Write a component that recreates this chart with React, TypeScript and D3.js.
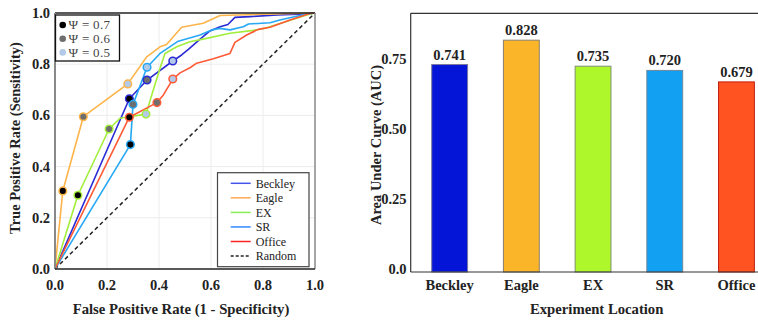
import React from "react";
import * as d3 from "d3";

// ---------- ROC data ----------
const beckleyFpr = [0, 0.286, 0.354, 0.453, 0.487, 0.513, 0.558, 0.596, 0.635, 0.665, 0.692, 0.75, 0.854, 0.969, 1];
const beckleyTpr = [0, 0.665, 0.738, 0.8125, 0.836, 0.858, 0.898, 0.93, 0.946, 0.955, 0.983, 0.986, 0.992, 0.996, 1];
const beckleyMarks = [1, 2, 3];

const eagleFpr = [0, 0.03, 0.109, 0.28, 0.353, 0.404, 0.429, 0.487, 0.57, 0.635, 0.8, 1];
const eagleTpr = [0, 0.305, 0.595, 0.723, 0.829, 0.868, 0.877, 0.944, 0.96, 0.99, 0.995, 1];
const eagleMarks = [1, 2, 3];

const exFpr = [0, 0.088, 0.208, 0.25, 0.35, 0.378, 0.404, 0.423, 0.468, 0.519, 0.583, 0.673, 0.763, 0.814, 0.968, 1];
const exTpr = [0, 0.288, 0.547, 0.589, 0.605, 0.699, 0.784, 0.842, 0.868, 0.888, 0.901, 0.921, 0.932, 0.942, 0.992, 1];
const exMarks = [1, 2, 4];

const srFpr = [0, 0.29, 0.3, 0.354, 0.404, 0.474, 0.558, 0.603, 0.635, 0.673, 0.724, 0.744, 0.827, 0.865, 0.968, 1];
const srTpr = [0, 0.486, 0.643, 0.788, 0.842, 0.89, 0.914, 0.934, 0.94, 0.934, 0.946, 0.957, 0.962, 0.973, 0.996, 1];
const srMarks = [1, 2, 3];

const officeFpr = [0, 0.286, 0.392, 0.417, 0.453, 0.481, 0.519, 0.545, 0.609, 0.673, 0.692, 0.737, 0.782, 0.827, 0.904, 0.98, 1];
const officeTpr = [0, 0.593, 0.65, 0.68, 0.742, 0.766, 0.786, 0.804, 0.821, 0.842, 0.885, 0.914, 0.936, 0.944, 0.973, 0.998, 1];
const officeMarks = [1, 2, 4];

const seriesNames = ["Beckley", "Eagle", "EX", "SR", "Office"];
const lineColors = ["#2b2bd6", "#fdb44b", "#a3ee3c", "#27a8f5", "#ff5a36"];
const legendColors = ["#4455ee", "#ffaa55", "#88ee55", "#3388ff", "#ff2222"];
const psiLabels = ["Ψ = 0.7", "Ψ = 0.6", "Ψ = 0.5"];
const psiFills = ["#000000", "#6e6e6e", "#b3c9e8"];
const rocTicks = [0, 0.2, 0.4, 0.6, 0.8, 1.0];

// ---------- AUC data ----------
const aucCategories = ["Beckley", "Eagle", "EX", "SR", "Office"];
const aucValues = [0.741, 0.828, 0.735, 0.72, 0.679];
const barColors = ["#0515d8", "#fbb529", "#adf72a", "#12a1f2", "#ff5322"];
const barEdges = ["#7a7a9a", "#8a8070", "#7f8f70", "#70869a", "#c02010"];
const aucTicks = [0, 0.25, 0.5, 0.75];
const aucTickLabels = ["0.0", "0.25", "0.50", "0.75"];

const FONT = "'Liberation Serif', 'Times New Roman', serif";

export default function App() {
  const roc = [
    { fpr: beckleyFpr, tpr: beckleyTpr, marks: beckleyMarks },
    { fpr: eagleFpr, tpr: eagleTpr, marks: eagleMarks },
    { fpr: exFpr, tpr: exTpr, marks: exMarks },
    { fpr: srFpr, tpr: srTpr, marks: srMarks },
    { fpr: officeFpr, tpr: officeTpr, marks: officeMarks },
  ];

  // Left chart scales
  const x = d3.scaleLinear().domain([0, 1]).range([55, 315]);
  const y = d3.scaleLinear().domain([0, 1]).range([269, 13]);
  const line = d3
    .line<[number, number]>()
    .x((d) => x(d[0]))
    .y((d) => y(d[1]));

  // Right chart scales
  const xb = d3
    .scaleBand<string>()
    .domain(aucCategories)
    .range([413.8, 772.3])
    .paddingInner(0.5)
    .paddingOuter(0.25);
  const yb = d3.scaleLinear().domain([0, 0.924]).range([272, 13.3]);

  return (
    <svg
      width={758}
      height={320}
      style={{ position: "absolute", left: 0, top: 0, background: "#fff" }}
      fontFamily={FONT}
    >
      {/* ===== Left: ROC ===== */}
      <g>
        {rocTicks.slice(1, 5).map((t) => (
          <g key={"g" + t}>
            <line x1={x(t)} x2={x(t)} y1={y(0)} y2={y(1)} stroke="#ececec" strokeWidth={1} />
            <line x1={x(0)} x2={x(1)} y1={y(t)} y2={y(t)} stroke="#ececec" strokeWidth={1} />
          </g>
        ))}
        {/* random diagonal */}
        <line x1={x(0)} y1={y(0)} x2={x(1)} y2={y(1)} stroke="#222" strokeWidth={1.5} strokeDasharray="4,3" />
        {roc.map((s, i) => (
          <path
            key={"l" + i}
            d={line(s.fpr.map((f, j) => [f, s.tpr[j]] as [number, number])) || ""}
            fill="none"
            stroke={lineColors[i]}
            strokeWidth={1.6}
            strokeLinejoin="round"
          />
        ))}
        {roc.map((s, i) =>
          s.marks.map((m, k) => (
            <circle
              key={"m" + i + "-" + k}
              cx={x(s.fpr[m])}
              cy={y(s.tpr[m])}
              r={3.8}
              fill={psiFills[k]}
              stroke={lineColors[i]}
              strokeWidth={1.5}
            />
          ))
        )}
        {/* frame */}
        <line x1={x(0)} x2={x(1)} y1={y(1)} y2={y(1)} stroke="#222" strokeWidth={1.5} />
        <line x1={x(1)} x2={x(1)} y1={y(1)} y2={y(0)} stroke="#888" strokeWidth={1.5} />
        <line x1={x(0)} x2={x(0)} y1={y(1)} y2={y(0)} stroke="#888" strokeWidth={2} />
        <line x1={x(0)} x2={x(1)} y1={y(0)} y2={y(0)} stroke="#222" strokeWidth={1.5} />
        {/* tick labels */}
        {rocTicks.map((t) => (
          <text key={"yt" + t} x={50} y={y(t)} dy="0.35em" textAnchor="end" fontSize={14.5} fontWeight="bold" fill="#222">
            {t.toFixed(1)}
          </text>
        ))}
        {rocTicks.map((t) => (
          <text key={"xt" + t} x={x(t)} y={285} dy="0.35em" textAnchor="middle" fontSize={14.5} fontWeight="bold" fill="#222">
            {t.toFixed(1)}
          </text>
        ))}
        <text x={181} y={309} dy="0.35em" textAnchor="middle" fontSize={14.7} fontWeight="bold" fill="#222">
          False Positive Rate (1 - Specificity)
        </text>
        <text
          transform={`translate(15,138) rotate(-90)`}
          dy="0.35em"
          textAnchor="middle"
          fontSize={14.5}
          fontWeight="bold"
          fill="#222"
        >
          True Positive Rate (Sensitivity)
        </text>
        {/* Psi legend */}
        <rect x={55.5} y={15} width={64} height={46} fill="#fff" stroke="#111" strokeWidth={1.3} />
        {psiLabels.map((p, k) => (
          <g key={"psi" + k}>
            <circle cx={62.7} cy={25 + k * 13.7} r={3.3} fill={psiFills[k]} />
            <text x={68.5} y={25 + k * 13.7} dy="0.33em" fontSize={13} letterSpacing={0.3} fill="#444">
              {p}
            </text>
          </g>
        ))}
        {/* series legend */}
        <rect x={217.5} y={172.7} width={91.5} height={94} fill="#fff" stroke="#444" strokeWidth={1.2} />
        {seriesNames.concat(["Random"]).map((n, k) => (
          <g key={"lg" + k}>
            <line
              x1={230.7}
              x2={250.7}
              y1={183.3 + k * 14.55}
              y2={183.3 + k * 14.55}
              stroke={k < 5 ? legendColors[k] : "#222"}
              strokeWidth={1.5}
              strokeDasharray={k < 5 ? undefined : "3,2"}
            />
            <text x={255.7} y={183.3 + k * 14.55} dy="0.35em" fontSize={12} fill="#222">
              {n}
            </text>
          </g>
        ))}
      </g>

      {/* ===== Right: AUC bars ===== */}
      <g>
        <line x1={410.7} x2={772} y1={13.3} y2={13.3} stroke="#333" strokeWidth={1.2} />
        {aucCategories.map((c, i) => (
          <g key={"b" + c}>
            <rect
              x={xb(c)!}
              y={yb(aucValues[i])}
              width={xb.bandwidth()}
              height={yb(0) - yb(aucValues[i])}
              fill={barColors[i]}
              stroke={barEdges[i]}
              strokeWidth={1}
            />
            <text
              x={xb(c)! + xb.bandwidth() / 2}
              y={yb(aucValues[i]) - 5}
              textAnchor="middle"
              fontSize={14.5}
              fontWeight="bold"
              fill="#222"
            >
              {aucValues[i].toFixed(3)}
            </text>
            <text
              x={xb(c)! + xb.bandwidth() / 2}
              y={285}
              dy="0.35em"
              textAnchor="middle"
              fontSize={14.5}
              fontWeight="bold"
              fill="#222"
            >
              {c}
            </text>
          </g>
        ))}
        <line x1={410.7} x2={410.7} y1={13.3} y2={272} stroke="#333" strokeWidth={1.2} />
        <line x1={410.7} x2={772} y1={272} y2={272} stroke="#333" strokeWidth={1.2} />
        {aucTicks.map((t, i) => (
          <text key={"ayt" + t} x={406.5} y={yb(t) - 3} dy="0.35em" textAnchor="end" fontSize={14.5} fontWeight="bold" fill="#222">
            {aucTickLabels[i]}
          </text>
        ))}
        <text x={596.7} y={309} dy="0.35em" textAnchor="middle" fontSize={14.7} fontWeight="bold" fill="#222">
          Experiment Location
        </text>
        <text
          transform={`translate(376,145) rotate(-90)`}
          dy="0.35em"
          textAnchor="middle"
          fontSize={14.5}
          fontWeight="bold"
          fill="#222"
        >
          Area Under Curve (AUC)
        </text>
      </g>
    </svg>
  );
}
